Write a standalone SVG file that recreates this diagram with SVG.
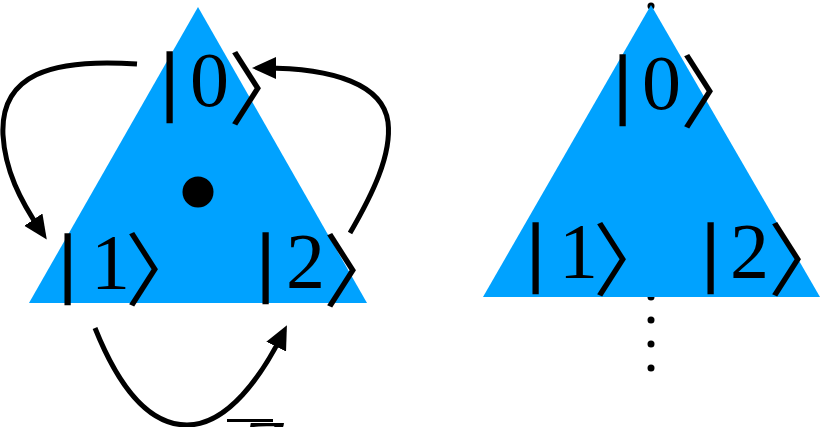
<svg xmlns="http://www.w3.org/2000/svg" width="821" height="427" viewBox="0 0 821 427">
<defs>
<style>
.tri{fill:#00A2FF}
.lbl{font-family:"Liberation Serif","DejaVu Serif",serif;font-size:78px;fill:#000}
.bar{font-family:"Liberation Serif","DejaVu Serif",serif;font-size:76px;fill:#000;stroke:#000;stroke-width:2.5}
.br{font-family:"Noto Sans CJK JP","DejaVu Serif",sans-serif;font-size:80px;fill:#000}
.arr{fill:none;stroke:#000;stroke-width:5}
.dot{fill:#000}
</style>
<marker id="ah" markerUnits="userSpaceOnUse" markerWidth="26" markerHeight="24" refX="13" refY="11" orient="auto">
<path d="M0,0 L24,11 L0,22 z" fill="#000"/>
</marker>
</defs>
<rect width="821" height="427" fill="#fff"/>
<g id="left-triangle">
<polygon class="tri" points="198,7 29,303 367,303"/>
<circle class="dot" cx="198" cy="192" r="15.5"/>
</g>
<g id="left-ket0">
<text class="bar" x="162" y="106">|</text><text class="lbl" x="190" y="106">0</text><text class="br" x="228" y="118">〉</text>
</g>
<g id="left-ket1">
<text class="bar" x="60" y="288">|</text><text class="lbl" x="91" y="288">1</text><text class="br" x="125" y="299">〉</text>
</g>
<g id="left-ket2">
<text class="bar" x="258" y="287">|</text><text class="lbl" x="286" y="287">2</text><text class="br" x="323" y="300">〉</text>
</g>
<g id="connectors">
<path class="arr" marker-end="url(#ah)" d="M137,64 C50,58 0,75 3,135 C5,170 20,200 40.6,230.4"/>
<path class="arr" marker-end="url(#ah)" d="M350,233 C372,195 392,155 388,122 C383,85 335,68 263,68"/>
<path class="arr" marker-end="url(#ah)" d="M95,328 C115,378 145,425 187,425 C228,425 262,375 282,335"/>
</g>
<g id="zbar-label">
<line x1="227" y1="420.5" x2="273" y2="420.5" stroke="#000" stroke-width="3"/>
<text class="lbl" x="240" y="474" font-style="italic">Z</text>
</g>
<g id="right-dots">
<circle class="dot" cx="651" cy="6" r="3.5"/>
<circle class="dot" cx="651" cy="297" r="3.5"/>
<circle class="dot" cx="651" cy="320" r="3.5"/>
<circle class="dot" cx="651" cy="344" r="3.5"/>
<circle class="dot" cx="651" cy="368" r="3.5"/>
</g>
<g id="right-triangle">
<polygon class="tri" points="651,5 483,297 820,297"/>
</g>
<g id="right-ket0">
<text class="bar" x="615" y="109">|</text><text class="lbl" x="642" y="109">0</text><text class="br" x="680" y="121">〉</text>
</g>
<g id="right-ket1">
<text class="bar" x="528" y="277">|</text><text class="lbl" x="559" y="277">1</text><text class="br" x="593" y="289">〉</text>
</g>
<g id="right-ket2">
<text class="bar" x="703" y="277">|</text><text class="lbl" x="730" y="277">2</text><text class="br" x="768" y="289">〉</text>
</g>
</svg>
